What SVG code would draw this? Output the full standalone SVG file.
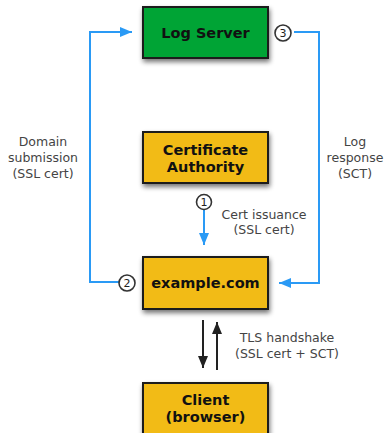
<svg xmlns="http://www.w3.org/2000/svg" width="387" height="433" viewBox="0 0 387 433">
<defs>
<style>
.box{stroke:#1a1a1a;stroke-width:2}
.green{fill:#04a435}
.yellow{fill:#f2bb13}
.bt{font-family:"DejaVu Sans",Verdana,sans-serif;font-weight:bold;font-size:14.5px;fill:#111;text-anchor:middle}
.lbl{font-family:"DejaVu Sans",Verdana,sans-serif;font-size:12.5px;fill:#444;text-anchor:middle}
.num{font-family:"DejaVu Sans",Verdana,sans-serif;font-size:11px;fill:#222;text-anchor:middle}
.blue{stroke:#2a9af5;stroke-width:2;fill:none}
.blk{stroke:#222;stroke-width:2;fill:none}
.circ{fill:#fff;stroke:#333;stroke-width:1.6}
</style>
<filter id="sh" x="-20%" y="-20%" width="150%" height="160%">
<feGaussianBlur in="SourceAlpha" stdDeviation="2.5"/>
<feOffset dx="1" dy="3" result="b"/>
<feComponentTransfer><feFuncA type="linear" slope="0.55"/></feComponentTransfer>
<feMerge><feMergeNode/><feMergeNode in="SourceGraphic"/></feMerge>
</filter>
<marker id="ab" viewBox="0 0 12 10" refX="12" refY="5" markerWidth="6" markerHeight="5" orient="auto" markerUnits="strokeWidth">
<path d="M0,0 L12,5 L0,10 z" fill="#2a9af5"/>
</marker>
<marker id="ak" viewBox="0 0 12 10" refX="12" refY="5" markerWidth="6" markerHeight="5" orient="auto" markerUnits="strokeWidth">
<path d="M0,0 L12,5 L0,10 z" fill="#222"/>
</marker>
</defs>
<g id="connectors">
<path class="blue" d="M119,282 H90 V32 H132" marker-end="url(#ab)"/>
<path class="blue" d="M294,32 H319 V283 H279" marker-end="url(#ab)"/>
<path class="blue" d="M204,210 V245" marker-end="url(#ab)"/>
<path class="blk" d="M203,320 V368" marker-end="url(#ak)"/>
<path class="blk" d="M217,370 V322" marker-end="url(#ak)"/>
<circle class="circ" cx="204" cy="202" r="7.5"/>
<text class="num" x="204" y="206">1</text>
<circle class="circ" cx="127" cy="283" r="8"/>
<text class="num" x="127" y="287">2</text>
<circle class="circ" cx="283" cy="33" r="8"/>
<text class="num" x="283" y="37">3</text>
<text class="lbl" x="43" y="146">Domain</text>
<text class="lbl" x="43" y="162">submission</text>
<text class="lbl" x="43" y="178">(SSL cert)</text>
<text class="lbl" x="355" y="146">Log</text>
<text class="lbl" x="355" y="162">response</text>
<text class="lbl" x="355" y="178">(SCT)</text>
<text class="lbl" x="264" y="219">Cert issuance</text>
<text class="lbl" x="264" y="234">(SSL cert)</text>
<text class="lbl" x="287" y="342">TLS handshake</text>
<text class="lbl" x="287" y="358">(SSL cert + SCT)</text>
</g>
<g id="log-server">
<rect class="box green" x="143" y="7" width="125" height="51" filter="url(#sh)"/>
<text class="bt" x="205.5" y="38">Log Server</text>
</g>
<g id="ca">
<rect class="box yellow" x="143" y="132" width="125" height="51" filter="url(#sh)"/>
<text class="bt" x="205.5" y="155">Certificate</text>
<text class="bt" x="205.5" y="172">Authority</text>
</g>
<g id="example">
<rect class="box yellow" x="143" y="257" width="125" height="52" filter="url(#sh)"/>
<text class="bt" x="205.5" y="288">example.com</text>
</g>
<g id="client">
<rect class="box yellow" x="143" y="383" width="125" height="60" filter="url(#sh)"/>
<text class="bt" x="205.5" y="405">Client</text>
<text class="bt" x="205.5" y="422">(browser)</text>
</g>
</svg>
